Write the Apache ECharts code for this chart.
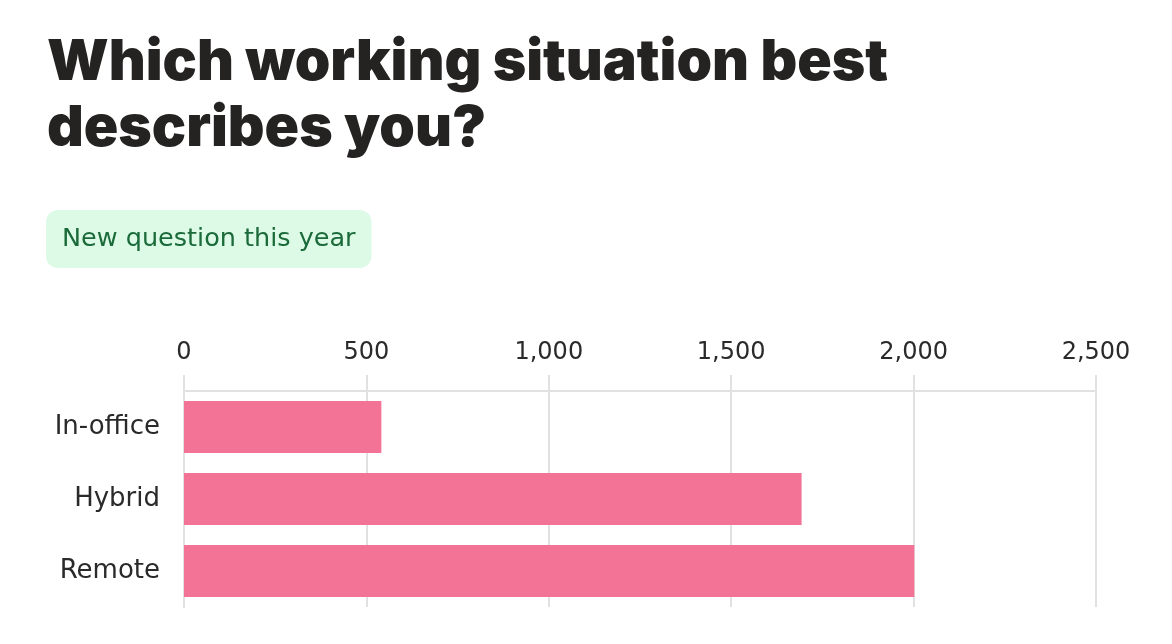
<!DOCTYPE html>
<html>
<head>
<meta charset="utf-8">
<script src="https://cdn.jsdelivr.net/npm/echarts@6/dist/echarts.min.js"></script>
<style>
html,body{margin:0;padding:0;background:#fff;}
#chart{width:1172px;height:644px;}
</style>
</head>
<body>
<div id="chart"></div>
<script>
const categories = ['In-office', 'Hybrid', 'Remote'];
const respondents = [541, 1693, 2002];
const xTicks = [0, 500, 1000, 1500, 2000, 2500];
const titleText = 'Which working situation best\ndescribes you?';
const badgeText = 'New question this year';

const chart = echarts.init(document.getElementById('chart'), null, {renderer: 'canvas'});
const gridColor = '#e1e1e1';
const labelFont = 'DejaVu Sans';
chart.setOption({
  animation: false,
  backgroundColor: '#ffffff',
  title: [
    {
      text: titleText,
      left: 41,
      top: 30,
      padding: [0, 6],
      textStyle: {
        fontFamily: 'Inter',
        fontWeight: 900,
        fontSize: 57,
        lineHeight: 66,
        color: '#252222'
      }
    },
    {
      text: badgeText,
      left: 46,
      top: 210,
      padding: [14, 16],
      backgroundColor: '#dcfae6',
      borderRadius: 12,
      textStyle: {
        fontFamily: labelFont,
        fontWeight: 400,
        fontSize: 25.5,
        lineHeight: 30,
        color: '#1b6a3a'
      }
    }
  ],
  grid: {left: 184, right: 76, top: 391, bottom: 37, containLabel: false},
  xAxis: {
    type: 'value',
    position: 'top',
    min: xTicks[0],
    max: xTicks[xTicks.length - 1],
    interval: xTicks[1] - xTicks[0],
    axisLine: {show: true, lineStyle: {color: gridColor, width: 2}},
    axisTick: {show: true, length: 16, lineStyle: {color: gridColor, width: 2}},
    splitLine: {show: true, lineStyle: {color: gridColor, width: 2}},
    axisLabel: {
      margin: 26,
      fontFamily: labelFont,
      fontSize: 24,
      color: '#2a2a2a',
      formatter: v => v.toLocaleString('en-US')
    }
  },
  yAxis: {
    type: 'category',
    data: categories,
    inverse: true,
    axisLine: {show: true, lineStyle: {color: gridColor, width: 2}},
    axisTick: {show: false},
    splitLine: {show: false},
    axisLabel: {
      margin: 24,
      fontFamily: labelFont,
      fontSize: 26,
      color: '#2a2a2a'
    }
  },
  series: [{
    type: 'bar',
    data: respondents,
    barCategoryGap: '28%',
    itemStyle: {color: '#f37397'}
  }]
});
</script>
</body>
</html>
